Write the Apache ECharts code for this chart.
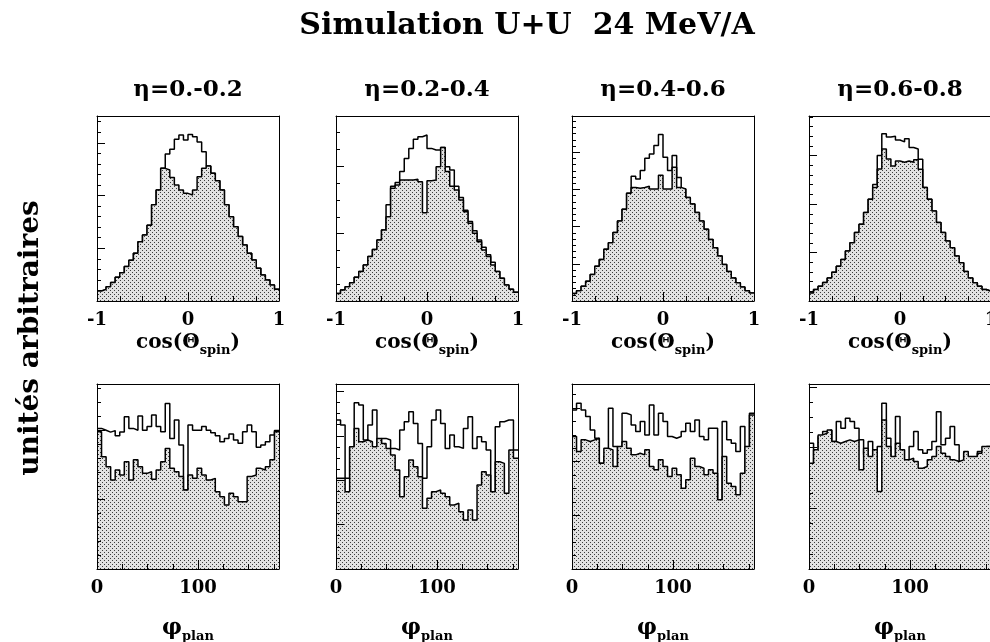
<!DOCTYPE html>
<html><head><meta charset="utf-8">
<script src="https://cdn.jsdelivr.net/npm/echarts/dist/echarts.min.js"></script>
<style>html,body{margin:0;padding:0;background:#fff}#c{width:990px;height:642px}</style>
</head><body><div id="c"></div>
<script>
// ---------------- data ----------------
const mainTitle = 'Simulation U+U  24 MeV/A';
const yLabel = 'unités arbitraires';
const panelTitles = ['η=0.-0.2', 'η=0.2-0.4', 'η=0.4-0.6', 'η=0.6-0.8'];
const cosRange = [-1, 1];
const phiRange = [0, 180];
const cosTickLabels = [-1, 0, 1];
const phiTickLabels = [0, 100];

// top row: cos(theta_spin) histograms (40 bins from -1 to 1)
const p1Fill = [5.4,6.3,7.7,10,12.8,15.3,18.6,22,25.8,32,35.7,41,52,60,71.7,70.8,66.8,62.7,60,58.2,57.3,60,67.2,71.7,73,69,65,60,52,45.6,40.2,34.8,30.3,25.8,22.2,17.7,14,11.4,8.6,6.3];
const p1Out  = [5.4,6.3,7.7,10,12.8,15.3,18.6,22,25.8,32,35.7,41,52,60,71.7,79.5,82,87.4,89.7,87,90,88.8,86,80.7,73,69,65,60,52,45.6,40.2,34.8,30.3,25.8,22.2,17.7,14,11.4,8.6,6.3];
const p2Fill = [4.1,5.9,7.7,9.9,12.8,15.9,19.5,24,27.9,33,38.4,45.6,60.9,62.7,65.4,65.4,65.4,65.8,64.5,47.7,65,65.4,72.6,83,70,62,60,54.6,48.3,42,36.6,32,27.6,24,19.5,15.9,12.3,8.6,6.3,4.7];
const p2Out  = [4.1,5.9,7.7,9.9,12.8,15.9,19.5,24,27.9,33,38.4,52,62,64,70,77,82.5,87.4,88.8,89.7,82.5,81.6,81.6,83,72.6,70.8,62,56,49,43,38,33,29,25,21,15.9,12.3,8.6,6.3,4.7];
const p3Fill = [4,5.6,8,10.7,14.3,18.8,22.5,28,31.5,37,43.3,49.6,58.3,61.4,61,61.4,62,60.5,60.5,68,60.5,60.5,72.3,61.4,60.5,56,52.4,47.8,43.3,38.8,33.3,28.8,24.3,19.7,16,12.5,9.8,7.6,5.6,4.3];
const p3Out  = [4,5.6,8,10.7,14.3,18.8,22.5,28,31.5,37,43.3,49.6,58.3,67.4,66,70.5,77.2,79.5,84,90,77.7,70.5,78.6,66.8,60.5,56,52.4,47.8,43.3,38.8,33.3,28.8,24.3,19.7,16,12.5,9.8,7.6,5.6,4.3];
const p4Fill = [4.3,6.2,8,10,12.5,15.6,18.8,22.5,27,31.5,37,41.5,47.8,55,61.4,71.4,82.2,76.8,73,75.7,75,75.7,75,76.3,71.2,61.4,55,48.7,42.4,37,32.4,28.8,24.3,20.7,16,12.5,9.8,8,6.2,5.3];
const p4Out  = [4.3,6.2,8,10,12.5,15.6,18.8,22.5,27,31.5,37,41.5,47.8,55,63,78.6,90.4,88.6,89,87,86,87.7,83,82.2,76.6,61.4,55,48.7,42.4,37,32.4,28.8,24.3,20.7,16,12.5,9.8,8,6.2,5.3];

// bottom row: phi_plan histograms (40 bins from 0 to 180)
const p5Fill = [74.2,60.7,55.3,48.1,53.5,50.8,58,48.1,59,55.3,51.7,52.6,48.5,53.5,58,65.2,54.4,52.6,50,42.7,50.8,49,54.4,50.8,48.1,49,41.8,39.1,34.6,40.9,39.1,36.4,36.4,50,50.8,54.4,53.5,55.3,59,74.2];
const p5Out  = [76,75,74,74.8,72,74,82.3,76,75,82.7,75,77,83.2,77,74.2,89.5,70.6,80.5,67,42.7,77.8,75,75,77,75,73.7,72,68.8,70.6,73,69.7,68,74.2,77.8,74.2,65.8,67,68.8,72.4,74.8];
const p6Fill = [49,49,41.8,66.1,76,68.8,69.7,68.8,66.1,70.6,67.9,65.2,61.6,53.5,39.1,49.9,58.9,55.3,49.9,32.8,38.2,41.8,42.7,40.9,39.1,34.6,35.5,31,26.5,31.9,26.5,45.4,52.6,50.8,41.8,58,57.1,40.9,64.3,59.8];
const p6Out  = [80.5,77.8,49,66.1,89.9,88.6,69.7,77.8,85.9,64.3,70.6,69.7,65.2,64.3,75.1,79.6,85,78.7,67.9,49,66.1,80.5,85.9,78.7,65.2,72.4,66.1,65.2,76,82.3,65.2,71.5,68.8,64.3,32.8,76.9,79.6,80.5,80.5,64.3];
const p7Fill = [71.6,63.5,69.8,68.9,69.8,70.7,57.2,65.3,64.4,55.4,66.2,68.9,65.3,61.7,62.6,61.7,64.4,55.4,53.6,59,55.4,50,54.5,50.9,43.7,48.2,59.9,55.4,54.5,50.9,53.6,51.8,37.4,60.8,46.4,44.6,40.1,51.8,66.2,83.3];
const p7Out  = [86,89.6,86,82.4,75.2,70.7,57.2,60.8,86.9,66.2,55.4,84.2,83.3,77.9,74.3,79.7,72.5,88.7,72.5,84.2,79.7,71.6,70.7,71.6,74.3,78.8,74.3,80.6,71.6,69.8,76.1,76.1,35.6,79.7,69.8,68,63.5,77,50,84.2];
const p8Fill = [57.2,64.4,72.5,73.4,75.2,68.9,68,68.9,69.8,68.9,69.8,53.6,65.3,60.8,64.4,41.9,80.6,66.2,60.8,68,64.4,59,59.9,58.1,54.5,55.4,59,60.8,66.2,62.6,60.8,59,58.1,59,63.5,60.8,60.8,62.6,66.2,66.2];
const p8Out  = [68,50.9,71.6,74.3,75.2,68.9,79.7,76.1,81.5,79.7,76.1,69.8,61.7,68.9,54.5,66.2,89.6,70.7,53.6,82.4,59,50,66.2,74.3,64.4,62.6,64.4,68.9,85,67.1,70.7,77,67.1,49.1,62.6,59,59,63.5,53.6,66.2];

// ---------------- layout ----------------
const FONT = '"DejaVu Serif", "Liberation Serif", serif';
const lefts = [97, 336, 572, 809];
const tops = [116, 384];
const W = 182, H = 185;
// [minor y tick step, minor ticks per major]
const yTickSpec = [[5.7,5],[9.1,4],[3.35,6],[5.24,5],[7.5,5],[6,4],[7.25,4],[8.2,4]];
const fills = [p1Fill,p2Fill,p3Fill,p4Fill,p5Fill,p6Fill,p7Fill,p8Fill];
const outs  = [p1Out,p2Out,p3Out,p4Out,p5Out,p6Out,p7Out,p8Out];

// stipple pattern for the shaded histograms
const pc = document.createElement('canvas'); pc.width = 4; pc.height = 4;
const pctx = pc.getContext('2d');
pctx.fillStyle = '#e2e2e2'; pctx.fillRect(0,0,4,4);
pctx.fillStyle = '#3c3c3c'; pctx.fillRect(0,0,1,1); pctx.fillRect(2,2,1,1);

function stepData(vals, range) {
  const w = (range[1] - range[0]) / vals.length;
  const d = vals.map((v, i) => [range[0] + i * w, v]);
  d.push([range[1], vals[vals.length - 1]]);
  return d;
}

const grid = [], xAxis = [], yAxis = [], series = [];
const black = {color: '#000', width: 1};
for (let p = 0; p < 8; p++) {
  const row = p < 4 ? 0 : 1, col = p % 4;
  const range = row === 0 ? cosRange : phiRange;
  const labels = row === 0 ? cosTickLabels : phiTickLabels;
  grid.push({left: lefts[col], top: tops[row], width: W, height: H, show: false, outerBoundsMode: 'none', containLabel: false});
  // minor x ticks + bottom line
  xAxis.push({gridIndex: p, type: 'value', position: 'bottom', min: range[0], max: range[1], interval: row === 0 ? 0.25 : 25, z: 10,
    axisLine: {show: true, onZero: false, lineStyle: black}, axisTick: {show: true, inside: true, length: 5, lineStyle: black},
    axisLabel: {show: false}, splitLine: {show: false}});
  // major x ticks + labels + name
  xAxis.push({gridIndex: p, type: 'value', position: 'bottom', min: range[0], max: range[1], interval: row === 0 ? 1 : 100, z: 10,
    axisLine: {show: false, onZero: false}, axisTick: {show: true, inside: true, length: 9, lineStyle: black},
    axisLabel: {show: true, margin: 10, color: '#000', fontFamily: FONT, fontWeight: 'bold', fontSize: 18,
      formatter: v => labels.indexOf(v) >= 0 ? String(v) : ''},
    splitLine: {show: false},
    name: row === 0 ? '{a|cos(Θ}{b|spin}{a|)}' : '{c|φ}{b|plan}',
    nameLocation: 'middle', nameGap: row === 0 ? 32 : 48,
    nameTextStyle: {color: '#000', fontFamily: FONT, fontWeight: 'bold', rich: {
      a: {fontFamily: FONT, fontWeight: 'bold', fontSize: 20, color: '#000', lineHeight: 24, padding: [0,0,5,0], verticalAlign: 'top'},
      c: {fontFamily: FONT, fontWeight: 'bold', fontSize: 22, color: '#000', lineHeight: 26, padding: [0,0,6,0], verticalAlign: 'top'},
      b: {fontFamily: FONT, fontWeight: 'bold', fontSize: 13, color: '#000', lineHeight: 15, verticalAlign: 'bottom'}
    }}});
  // top frame line
  xAxis.push({gridIndex: p, type: 'value', position: 'top', min: range[0], max: range[1], z: 10,
    axisLine: {show: true, onZero: false, lineStyle: black}, axisTick: {show: false}, axisLabel: {show: false}, splitLine: {show: false}});
  const ys = yTickSpec[p];
  yAxis.push({gridIndex: p, type: 'value', position: 'left', min: 0, max: 100, interval: ys[0], z: 10,
    axisLine: {show: true, onZero: false, lineStyle: black}, axisTick: {show: true, inside: true, length: 4, lineStyle: black},
    axisLabel: {show: false}, splitLine: {show: false}});
  yAxis.push({gridIndex: p, type: 'value', position: 'left', min: 0, max: 100, interval: ys[0] * ys[1], z: 10,
    axisLine: {show: false, onZero: false}, axisTick: {show: true, inside: true, length: 8, lineStyle: black},
    axisLabel: {show: false}, splitLine: {show: false}});
  yAxis.push({gridIndex: p, type: 'value', position: 'right', min: 0, max: 100, z: 10,
    axisLine: {show: true, onZero: false, lineStyle: black}, axisTick: {show: false}, axisLabel: {show: false}, splitLine: {show: false}});

  series.push({type: 'line', step: 'end', xAxisIndex: 3 * p, yAxisIndex: 3 * p, data: stepData(outs[p], range),
    symbol: 'none', silent: true, z: 2, lineStyle: {color: '#000', width: 1.5}});
  series.push({type: 'line', step: 'end', xAxisIndex: 3 * p, yAxisIndex: 3 * p, data: stepData(fills[p], range),
    symbol: 'none', silent: true, z: 3, lineStyle: {color: '#000', width: 1.5},
    areaStyle: {color: {image: pc, repeat: 'repeat'}, opacity: 1}});
}

const graphic = [
  {type: 'text', x: 527, y: 26, style: {text: mainTitle, font: 'bold 30px ' + FONT, fill: '#000',
    align: 'center', verticalAlign: 'middle', textAlign: 'center', textVerticalAlign: 'middle'}},
  {type: 'text', x: 31, y: 338, rotation: Math.PI / 2, style: {text: yLabel, font: 'bold 28px ' + FONT, fill: '#000',
    align: 'center', verticalAlign: 'middle', textAlign: 'center', textVerticalAlign: 'middle'}}
];
panelTitles.forEach((t, i) => {
  graphic.push({type: 'text', x: lefts[i] + W / 2, y: 90, style: {text: t, font: 'bold 23px ' + FONT, fill: '#000',
    align: 'center', verticalAlign: 'middle', textAlign: 'center', textVerticalAlign: 'middle'}});
});

const chart = echarts.init(document.getElementById('c'), null, {renderer: 'canvas'});
chart.setOption({animation: false, backgroundColor: '#fff', grid, xAxis, yAxis, series, graphic});
</script></body></html>
